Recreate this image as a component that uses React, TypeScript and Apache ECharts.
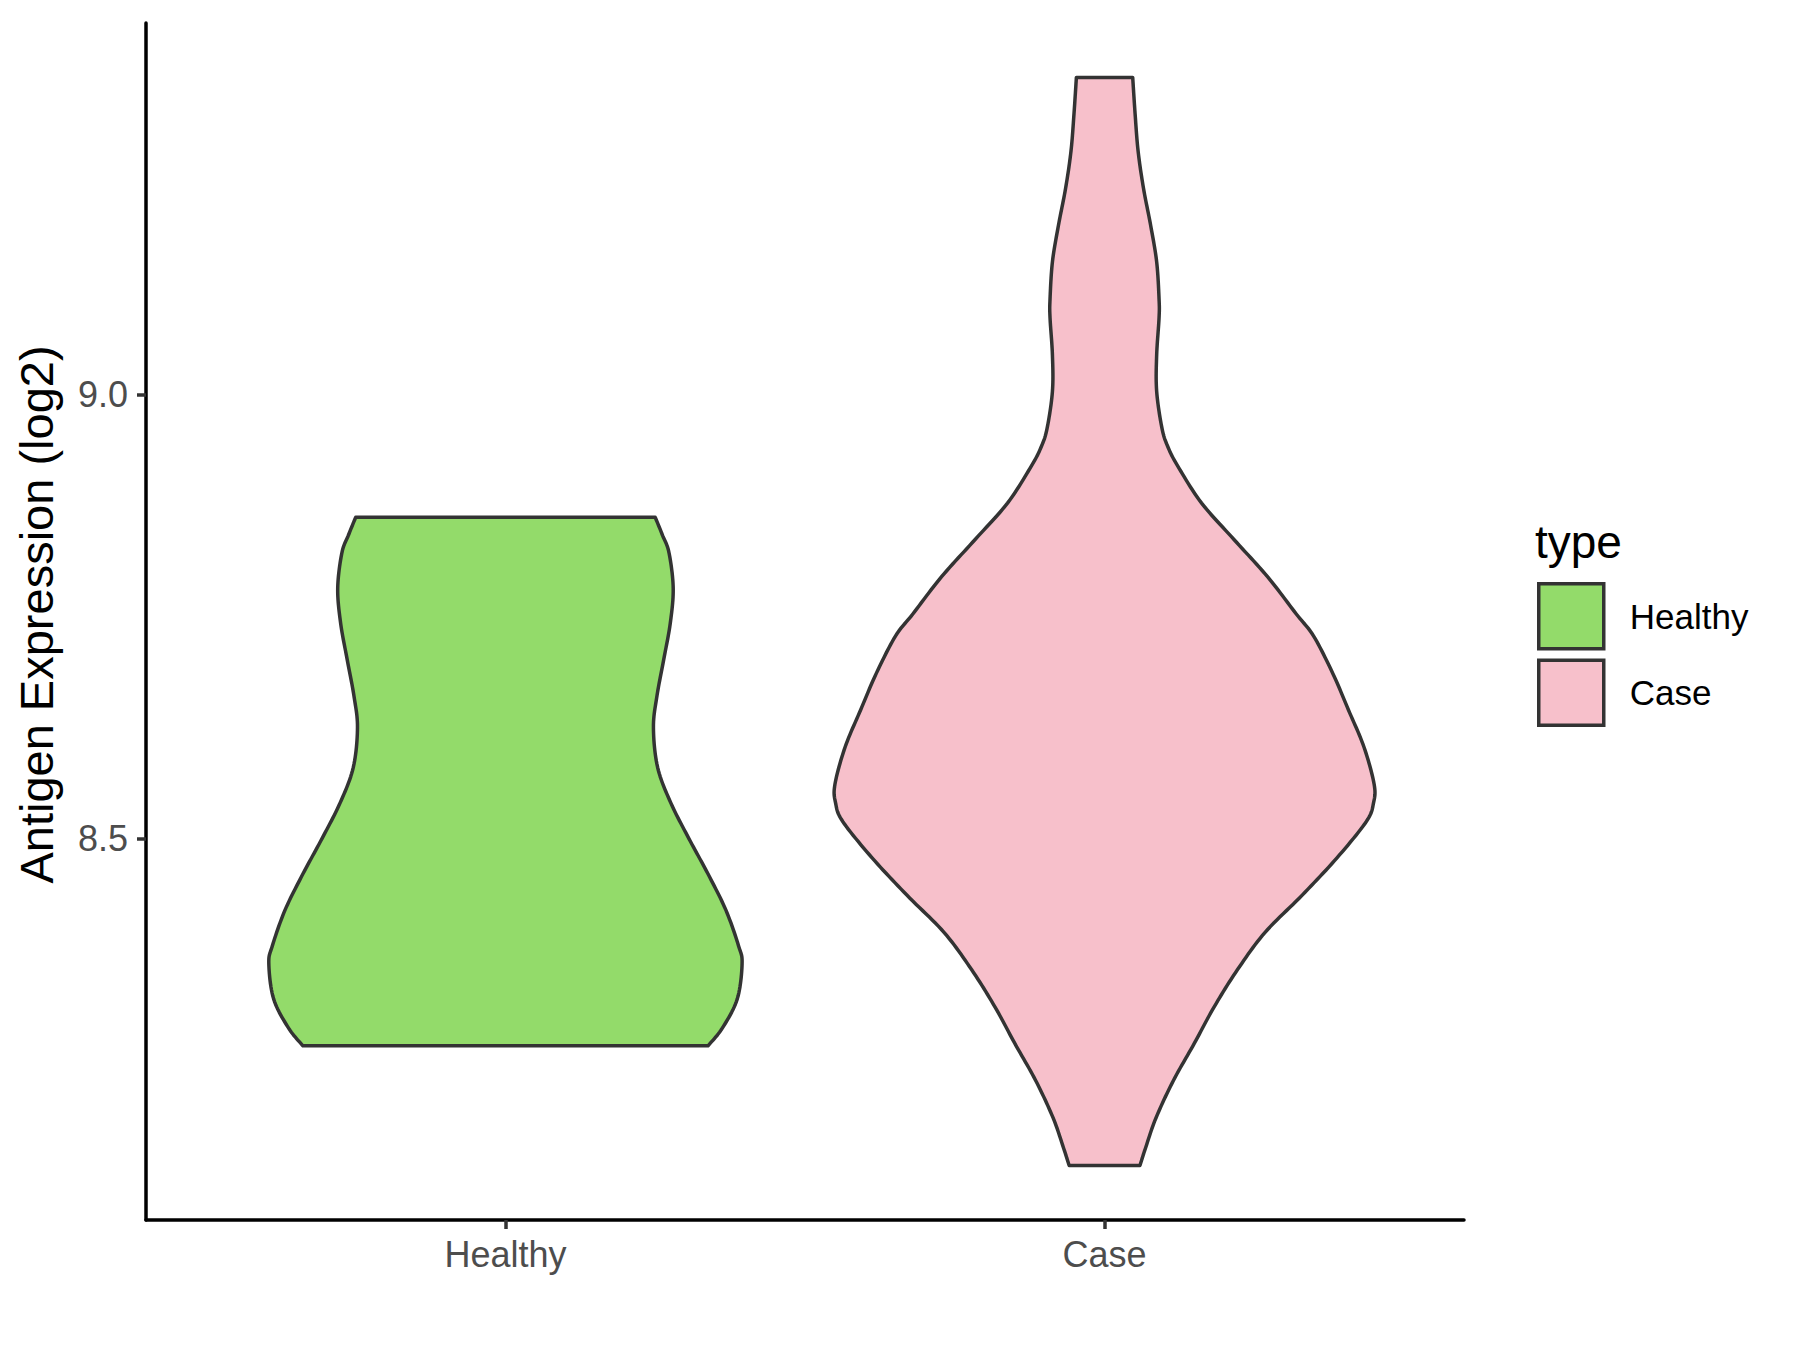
import React, { useEffect, useRef } from "react";
import * as echarts from "echarts";

// Categories
const categories = ["Healthy", "Case"];
const legendTitle = "type";
const yAxisTitle = "Antigen Expression (log2)";
const yTickValues = [8.5, 9.0];

// Violin outlines: expression values (top to bottom) and half-widths (category units)
const healthyValues = [8.862, 8.842, 8.822, 8.782, 8.742, 8.701, 8.661, 8.625, 8.58, 8.54, 8.5, 8.46, 8.419, 8.379, 8.359, 8.319, 8.286, 8.266];
const healthyWidths = [0.25, 0.262, 0.273, 0.28, 0.275, 0.264, 0.253, 0.247, 0.254, 0.276, 0.306, 0.338, 0.368, 0.389, 0.395, 0.387, 0.362, 0.338];

const caseValues = [9.358, 9.317, 9.275, 9.233, 9.191, 9.15, 9.108, 9.087, 9.045, 9.004, 8.962, 8.941, 8.92, 8.878, 8.837, 8.795, 8.753, 8.728, 8.686, 8.645, 8.603, 8.561, 8.54, 8.519, 8.478, 8.436, 8.394, 8.352, 8.31, 8.269, 8.227, 8.185, 8.152, 8.131];
const caseWidths = [0.047, 0.051, 0.056, 0.065, 0.077, 0.087, 0.091, 0.091, 0.087, 0.087, 0.096, 0.106, 0.122, 0.162, 0.216, 0.272, 0.32, 0.349, 0.381, 0.407, 0.433, 0.45, 0.449, 0.437, 0.388, 0.33, 0.268, 0.222, 0.183, 0.15, 0.115, 0.086, 0.069, 0.059];

const colors = ["#93DB6A", "#F7C0CB"];

function catmull(pts: number[][], steps = 12): number[][] {
  const out: number[][] = [];
  const n = pts.length;
  for (let i = 0; i < n - 1; i++) {
    const p0 = pts[Math.max(i - 1, 0)];
    const p1 = pts[i];
    const p2 = pts[i + 1];
    const p3 = pts[Math.min(i + 2, n - 1)];
    for (let s = 0; s < steps; s++) {
      const t = s / steps;
      const t2 = t * t;
      const t3 = t2 * t;
      const f = (a: number, b: number, c: number, d: number) =>
        0.5 * (2 * b + (-a + c) * t + (2 * a - 5 * b + 4 * c - d) * t2 + (-a + 3 * b - 3 * c + d) * t3);
      out.push([f(p0[0], p1[0], p2[0], p3[0]), f(p0[1], p1[1], p2[1], p3[1])]);
    }
  }
  out.push(pts[n - 1]);
  return out;
}

function makeSeries(name: string, idx: number, values: number[], widths: number[], color: string) {
  const center = idx + 1;
  return {
    name,
    type: "custom",
    data: [[center, values[0]]],
    itemStyle: { color },
    renderItem: (params: any, api: any) => {
      const right = values.map((v, i) => api.coord([center + widths[i], v]));
      const left = values.map((v, i) => api.coord([center - widths[i], v]));
      const pts = [...catmull(right), ...catmull(left).reverse()];
      return {
        type: "polygon",
        shape: { points: pts },
        style: { fill: color, stroke: "#333333", lineWidth: 3.5, lineJoin: "round" },
      };
    },
  };
}

export default function App() {
  const ref = useRef<HTMLDivElement>(null);
  useEffect(() => {
    if (!ref.current) return;
    const chart = echarts.init(ref.current, null, { renderer: "svg" });
    const all = [...healthyValues, ...caseValues];
    const lo = Math.min(...all);
    const hi = Math.max(...all);
    const pad = (hi - lo) * 0.05;
    const font = "'Liberation Sans', Arial, sans-serif";
    chart.setOption({
      animation: false,
      backgroundColor: "#ffffff",
      title: {
        text: legendTitle,
        left: 1530,
        top: 514,
        textStyle: { fontFamily: font, fontSize: 46, fontWeight: "normal", color: "#000000" },
      },
      legend: {
        orient: "vertical",
        left: 1532,
        top: 577,
        itemWidth: 65,
        itemHeight: 65,
        itemGap: 8,
        icon: "rect",
        data: categories,
        itemStyle: { borderColor: "#333333", borderWidth: 3.5 },
        textStyle: { fontFamily: font, fontSize: 35, color: "#000000", padding: [0, 0, 0, 21] },
      },
      grid: { left: 146, right: 336, top: 23, bottom: 130, containLabel: false },
      xAxis: {
        type: "value",
        min: 0.4,
        max: 2.6,
        splitLine: { show: false },
        axisLine: { show: true, lineStyle: { color: "#000000", width: 3.5 } },
        axisTick: { show: true, customValues: [1, 2], length: 9, lineStyle: { color: "#333333", width: 3.5 } },
        axisLabel: {
          customValues: [1, 2],
          formatter: (v: number) => categories[Math.round(v) - 1],
          fontFamily: font,
          fontSize: 36,
          color: "#4D4D4D",
          margin: 16,
        },
      },
      yAxis: {
        type: "value",
        min: lo - pad,
        max: hi + pad,
        name: yAxisTitle,
        nameLocation: "middle",
        nameRotate: 90,
        nameGap: 86,
        nameTextStyle: { fontFamily: font, fontSize: 47, color: "#000000", padding: [0, 0, 0, 14] },
        splitLine: { show: false },
        axisLine: { show: true, lineStyle: { color: "#000000", width: 3.5 } },
        axisTick: { show: true, customValues: yTickValues, length: 9, lineStyle: { color: "#333333", width: 3.5 } },
        axisLabel: {
          customValues: yTickValues,
          formatter: (v: number) => v.toFixed(1),
          fontFamily: font,
          fontSize: 36,
          color: "#4D4D4D",
          margin: 18,
        },
      },
      series: [
        makeSeries(categories[0], 0, healthyValues, healthyWidths, colors[0]),
        makeSeries(categories[1], 1, caseValues, caseWidths, colors[1]),
      ],
    });
    return () => chart.dispose();
  }, []);
  return (
    <div
      ref={ref}
      style={{ position: "absolute", left: 0, top: 0, width: 1800, height: 1350, background: "#fff" }}
    />
  );
}
